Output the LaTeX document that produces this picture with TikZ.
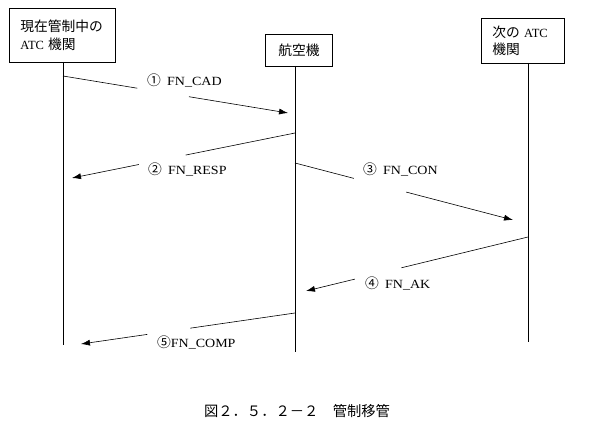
\documentclass[tikz,border=0pt]{standalone}
\usepackage{fontspec}
\setmainfont{Liberation Serif}
\newfontfamily\lbl[FakeStretch=1.12]{Liberation Serif}
\newfontfamily\jp[Scale=1.1]{Noto Sans CJK JP}
\usetikzlibrary{arrows.meta,calc}

\tikzset{
  box/.style={draw,line width=0.9pt,inner sep=0pt,font=\fontsize{12.5}{17.5}\selectfont},
  lifeline/.style={line width=0.6pt},
  msg/.style={line width=0.6pt},
  msgtip/.style={msg,-{Latex[length=9pt,width=6pt]}},
  msglabel/.style={anchor=west,inner sep=0pt,font=\fontsize{12.5}{15}\selectfont\lbl},
}

\begin{document}
\begin{tikzpicture}[x=1pt,y=-1pt]
    \useasboundingbox (0,0) rectangle (593,427);
    \pgfmathsetmacro{\atcnowx}{63}
    \pgfmathsetmacro{\planex}{295}
    \pgfmathsetmacro{\atcnextx}{528}
    % the three boxes
    \node[box,anchor=north west,text width=84pt,inner xsep=11pt,align=left,minimum height=54pt] (atcnow) at (9,8)
        {{\jp 現在管制中の}\\ATC {\jp 機関}};
    \node[box,anchor=north west,minimum width=67pt,minimum height=32pt] (plane) at (265,34) {\jp 航空機};
    \node[box,anchor=north west,text width=61pt,inner xsep=11pt,align=left,minimum height=45pt] (atcnext) at (481,18)
        {{\jp 次の}\ ATC\\{\jp 機関}};
    % lifelines
    \coordinate (atcnowtop) at (\atcnowx,62);
    \coordinate (atcnowbot) at (\atcnowx,345);
    \coordinate (planetop) at (\planex,66);
    \coordinate (planebot) at (\planex,352);
    \coordinate (atcnexttop) at (\atcnextx,63);
    \coordinate (atcnextbot) at (\atcnextx,342);
    \draw[lifeline] (atcnowtop) -- (atcnowbot);
    \draw[lifeline] (planetop) -- (planebot);
    \draw[lifeline] (atcnexttop) -- (atcnextbot);
    % messages
    \coordinate (cads) at (\atcnowx,76);   \coordinate (cade) at (288,113);
    \coordinate (resps) at (\planex,133);  \coordinate (respe) at (72,178);
    \coordinate (cons) at (\planex,163);   \coordinate (cone) at (513,220);
    \coordinate (aks) at (\atcnextx,237);  \coordinate (ake) at (306,291);
    \coordinate (comps) at (\planex,313);  \coordinate (compe) at (81,344);
    \draw[msg] (cads) -- ($(cads)!0.33!(cade)$);
    \draw[msgtip] ($(cads)!0.56!(cade)$) -- (cade);
    \draw[msg] (resps) -- ($(resps)!0.49!(respe)$);
    \draw[msgtip] ($(resps)!0.70!(respe)$) -- (respe);
    \draw[msg] (cons) -- ($(cons)!0.27!(cone)$);
    \draw[msgtip] ($(cons)!0.51!(cone)$) -- (cone);
    \draw[msg] (aks) -- ($(aks)!0.57!(ake)$);
    \draw[msgtip] ($(aks)!0.78!(ake)$) -- (ake);
    \draw[msg] (comps) -- ($(comps)!0.49!(compe)$);
    \draw[msgtip] ($(comps)!0.69!(compe)$) -- (compe);
    \node[msglabel] (cad) at (147,80) {{\jp ①}\enspace FN\_CAD};
    \node[msglabel] (resp) at (148,169) {{\jp ②}\enspace FN\_RESP};
    \node[msglabel] (con) at (363,169) {{\jp ③}\enspace FN\_CON};
    \node[msglabel] (ak) at (365,283) {{\jp ④}\enspace FN\_AK};
    \node[msglabel] (comp) at (157,342) {{\jp ⑤}FN\_COMP};
    % caption
    \node[font=\fontsize{13}{15}\selectfont\jp] (caption) at (297,411) {図２．５．２－２　管制移管};
\end{tikzpicture}
\end{document}
